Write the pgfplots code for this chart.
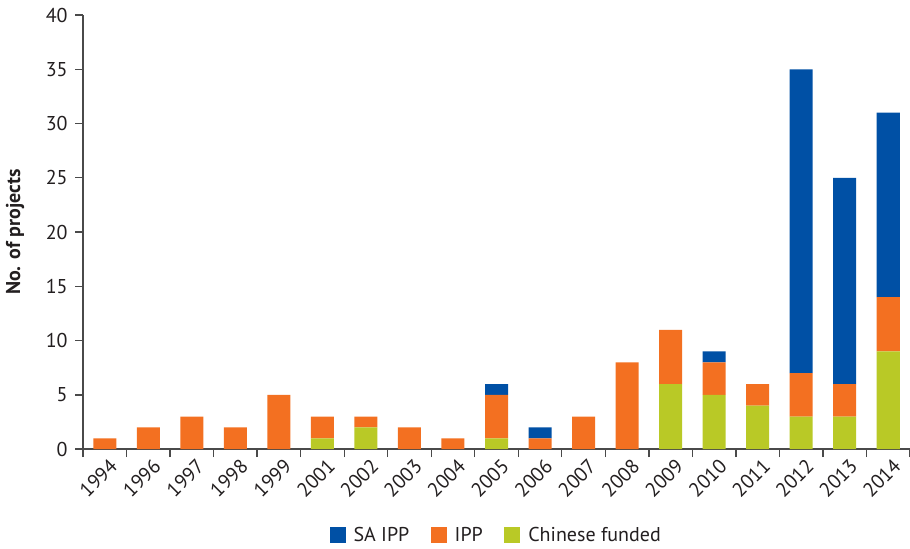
\documentclass[border=0pt]{standalone}
\usepackage{pgfplots}
\pgfplotsset{compat=1.18}
\usepackage{pgfplotstable}
\usepackage{fontspec}
\setmainfont{PT Sans}
\definecolor{saipp}{HTML}{0050A5}
\definecolor{ipp}{HTML}{F37021}
\definecolor{cnf}{HTML}{B9C926}
\definecolor{txt}{HTML}{231F20}
\definecolor{axl}{HTML}{4A4A4A}
\pgfplotstableread{
x cn ipp sa
0 0 1 0
1 0 2 0
2 0 3 0
3 0 2 0
4 0 5 0
5 1 2 0
6 2 1 0
7 0 2 0
8 0 1 0
9 1 4 1
10 0 1 1
11 0 3 0
12 0 8 0
13 6 5 0
14 5 3 1
15 4 2 0
16 3 4 28
17 3 3 19
18 9 5 17
}\datatable
\begin{document}
\begin{tikzpicture}
\begin{axis}[
  name=ax,
  scale only axis,
  width=620pt, height=325.5pt,
  ybar stacked, bar width=17.25pt,
  xmin=-0.5, xmax=18.5, ymin=0, ymax=40,
  axis x line=bottom, axis y line=left,
  axis line style={axl, line width=1pt, -},
  xtick={0,...,18},
  xticklabels={1994,1996,1997,1998,1999,2001,2002,2003,2004,2005,2006,2007,2008,2009,2010,2011,2012,2013,2014},
  major x tick style={draw=none},
  minor xtick={-0.5,0.5,...,18.5},
  minor x tick style={axl, line width=1pt},
  minor tick length=6pt,
  ytick={0,5,...,40},
  major y tick style={axl, line width=1pt},
  major tick length=6pt,
  tick align=outside,
  tick label style={font=\fontsize{15pt}{17pt}\selectfont, text=txt},
  xticklabel style={rotate=45, anchor=north east, inner sep=1pt, xshift=3pt, yshift=-1pt},
  yticklabel style={xshift=-2pt},
  /pgf/number format/assume math mode=true,
  ylabel={\bfseries No. of projects},
  every axis y label/.style={at={(axis description cs:0,0.5)}, xshift=-51pt, rotate=90, anchor=center,
    font=\fontsize{15pt}{17pt}\selectfont, text=txt},
  reverse legend,
  legend columns=3,
  legend style={draw=none, at={(0.5,-0.198)}, anchor=center, font=\fontsize{15pt}{17pt}\selectfont, text=txt,
    /tikz/every odd column/.append style={column sep=4pt},
    /tikz/every even column/.append style={column sep=14pt}},
  legend image code/.code={\fill[#1] (0pt,-6pt) rectangle (12pt,6pt);},
]
\addplot[fill=cnf, draw=none] table[x=x, y=cn] {\datatable};
\addlegendentry{Chinese funded}
\addplot[fill=ipp, draw=none] table[x=x, y=ipp] {\datatable};
\addlegendentry{IPP}
\addplot[fill=saipp, draw=none] table[x=x, y=sa] {\datatable};
\addlegendentry{SA IPP}
\end{axis}
\pgfresetboundingbox
\path ([shift={(-62.25pt,-74.25pt)}]ax.south west) rectangle ([shift={(0pt,11.25pt)}]ax.north east);
\end{tikzpicture}
\end{document}
